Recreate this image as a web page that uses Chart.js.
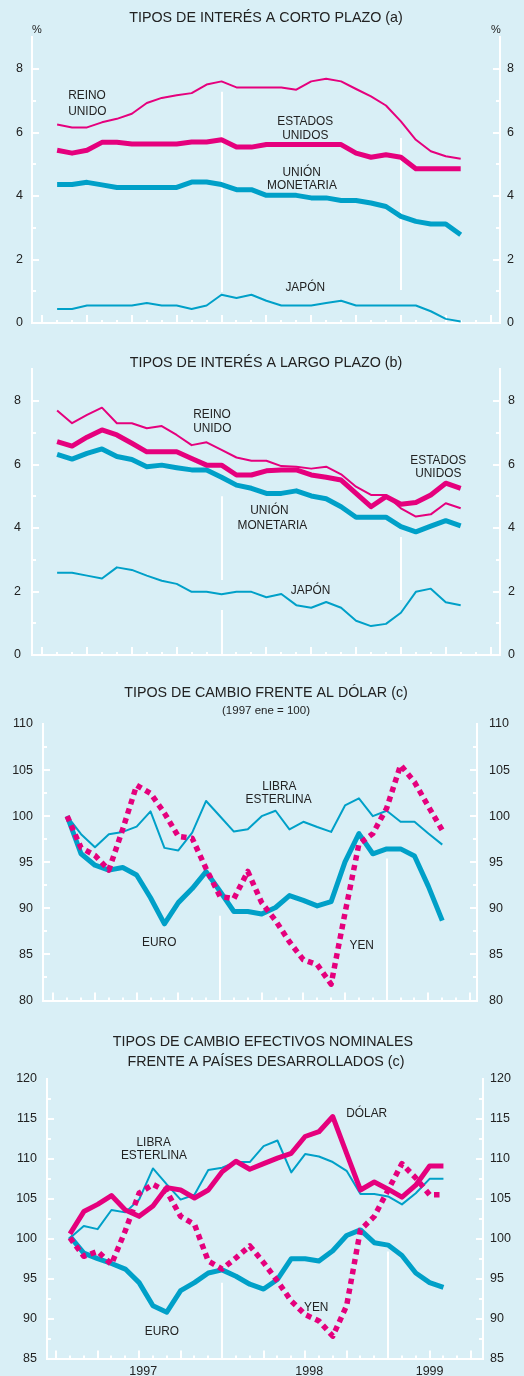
<!DOCTYPE html>
<html lang="es">
<head>
<meta charset="utf-8">
<title>Tipos de interés y tipos de cambio</title>
<script src="https://cdn.jsdelivr.net/npm/chart.js@4.4.1/dist/chart.umd.min.js"></script>
<style>
  html, body { margin: 0; padding: 0; background: #d9eff6; }
  #lienzo { position: relative; width: 524px; height: 1376px; overflow: hidden; background: #d9eff6; }
  #lienzo canvas { position: absolute; left: 0; }
</style>
</head>
<body>
<div id="lienzo">
  <canvas id="chartCorto" width="524" height="340" style="top:0px"></canvas>
  <canvas id="chartLargo" width="524" height="340" style="top:340px"></canvas>
  <canvas id="chartDolar" width="524" height="340" style="top:680px"></canvas>
  <canvas id="chartEfectivo" width="524" height="356" style="top:1020px"></canvas>
</div>
<script>
// meses representados (1997 ene .. 1999 abr)
const meses = [
  "1997 ene", "1997 feb", "1997 mar", "1997 abr", "1997 may", "1997 jun", "1997 jul", "1997 ago", "1997 sep", "1997 oct", "1997 nov", "1997 dic",
  "1998 ene", "1998 feb", "1998 mar", "1998 abr", "1998 may", "1998 jun", "1998 jul", "1998 ago", "1998 sep", "1998 oct", "1998 nov", "1998 dic",
  "1999 ene", "1999 feb", "1999 mar", "1999 abr"
];
const anios = ["1997", "1998", "1999"];

// tipos de interés a corto plazo (%)
const cortoReinoUnido = [6.25, 6.16, 6.16, 6.32, 6.43, 6.59, 6.93, 7.09, 7.17, 7.24, 7.51, 7.61, 7.42, 7.42, 7.42, 7.42, 7.35, 7.61, 7.69, 7.61, 7.37, 7.14, 6.85, 6.35, 5.77, 5.41, 5.25, 5.17];
const cortoEstadosUnidos = [5.44, 5.35, 5.44, 5.69, 5.69, 5.64, 5.64, 5.64, 5.64, 5.70, 5.70, 5.77, 5.54, 5.54, 5.62, 5.62, 5.62, 5.62, 5.62, 5.62, 5.35, 5.22, 5.30, 5.22, 4.86, 4.86, 4.86, 4.86];
const cortoUnionMonetaria = [4.36, 4.36, 4.43, 4.35, 4.27, 4.27, 4.27, 4.27, 4.27, 4.44, 4.44, 4.36, 4.20, 4.20, 4.02, 4.02, 4.02, 3.94, 3.94, 3.86, 3.86, 3.78, 3.67, 3.36, 3.20, 3.12, 3.12, 2.78];
const cortoJapon = [0.44, 0.44, 0.55, 0.55, 0.55, 0.55, 0.63, 0.55, 0.55, 0.44, 0.55, 0.89, 0.79, 0.89, 0.70, 0.55, 0.55, 0.55, 0.63, 0.70, 0.55, 0.55, 0.55, 0.55, 0.55, 0.37, 0.13, 0.05];

// tipos de interés a largo plazo (%)
const largoReinoUnido = [7.70, 7.30, 7.56, 7.79, 7.30, 7.30, 7.14, 7.21, 6.93, 6.61, 6.70, 6.46, 6.22, 6.12, 6.12, 5.95, 5.93, 5.87, 5.93, 5.69, 5.30, 5.04, 5.04, 4.62, 4.36, 4.43, 4.78, 4.62];
const largoEstadosUnidos = [6.72, 6.58, 6.86, 7.09, 6.93, 6.67, 6.40, 6.40, 6.40, 6.19, 5.98, 5.98, 5.67, 5.67, 5.80, 5.83, 5.83, 5.67, 5.60, 5.51, 5.09, 4.67, 4.99, 4.75, 4.80, 5.04, 5.41, 5.25];
const largoUnionMonetaria = [6.32, 6.17, 6.35, 6.49, 6.25, 6.16, 5.93, 5.98, 5.90, 5.83, 5.83, 5.60, 5.35, 5.25, 5.09, 5.09, 5.17, 5.01, 4.92, 4.67, 4.34, 4.34, 4.34, 4.04, 3.88, 4.06, 4.23, 4.07];
const largoJapon = [2.59, 2.59, 2.50, 2.41, 2.76, 2.68, 2.50, 2.34, 2.24, 1.99, 1.99, 1.91, 1.99, 1.99, 1.82, 1.92, 1.57, 1.49, 1.67, 1.49, 1.08, 0.91, 0.98, 1.33, 1.99, 2.09, 1.66, 1.57];

// tipos de cambio frente al dólar (1997 ene = 100)
const dolarLibra = [100.0, 98.04, 96.63, 98.04, 98.29, 98.86, 100.52, 96.56, 96.28, 98.22, 101.65, 99.99, 98.33, 98.57, 100.0, 100.59, 98.57, 99.39, 98.82, 98.29, 101.16, 101.93, 100.0, 100.59, 99.39, 99.39, 98.11, 96.91];
const dolarEuro = [100.0, 95.92, 94.68, 94.15, 94.43, 93.62, 91.15, 88.32, 90.62, 92.14, 93.98, 91.86, 89.66, 89.66, 89.38, 90.09, 91.39, 90.86, 90.26, 90.72, 95.04, 98.11, 95.92, 96.45, 96.45, 95.67, 92.38, 88.67];
const dolarYen = [100.0, 96.56, 95.75, 94.15, 98.6, 103.35, 102.47, 100.34, 97.8, 97.6, 94.3, 91.3, 91.04, 94.0, 90.62, 88.67, 86.37, 84.42, 83.89, 81.77, 89.5, 96.98, 98.11, 100.87, 105.54, 103.70, 101.05, 98.47];

// tipos de cambio efectivos nominales frente a países desarrollados
const efectivoDolar = [100.6, 103.4, 104.3, 105.4, 103.6, 102.8, 104.1, 106.4, 106.1, 105.1, 106.1, 108.4, 109.7, 108.7, 109.4, 110.1, 110.7, 112.8, 113.4, 115.3, 110.7, 106.1, 107.1, 106.2, 105.2, 106.7, 109.1, 109.1];
const efectivoLibra = [100.1, 101.6, 101.2, 103.6, 103.3, 104.9, 108.8, 106.8, 104.9, 105.5, 108.6, 108.9, 109.6, 109.6, 111.6, 112.3, 108.3, 110.6, 110.3, 109.6, 108.5, 105.6, 105.6, 105.3, 104.3, 105.7, 107.5, 107.5];
const efectivoEuro = [100.3, 98.2, 97.5, 96.9, 96.2, 94.5, 91.6, 90.8, 93.5, 94.5, 95.7, 96.1, 95.3, 94.3, 93.7, 94.9, 97.5, 97.5, 97.2, 98.5, 100.4, 101.1, 99.5, 99.2, 97.9, 95.7, 94.5, 93.9];
const efectivoYen = [100.1, 97.8, 98.4, 96.8, 101.0, 105.7, 106.8, 105.9, 102.8, 101.8, 97.2, 96.2, 97.6, 99.1, 97.0, 94.7, 92.2, 90.5, 89.7, 87.8, 91.6, 101.1, 102.8, 106.1, 109.4, 107.6, 105.5, 105.5];

// marcas de los ejes
const ticksInteres = [0, 2, 4, 6, 8];
const ticksDolar = [80, 85, 90, 95, 100, 105, 110];
const ticksEfectivo = [85, 90, 95, 100, 105, 110, 115, 120];

const ROSA = "#e5007d";
const AZUL = "#00a0c8";
const TEXTO = "#222222";
const FUENTE = '"Liberation Sans", Arial, Helvetica, sans-serif';

Chart.defaults.font.family = FUENTE;
Chart.defaults.font.size = 12;
Chart.defaults.color = TEXTO;

// texto algo estrechado, como en el original
function textoEstrecho(ctx, texto, px, py, alinear) {
  ctx.save();
  ctx.translate(px, py);
  ctx.scale(0.88, 1);
  ctx.textAlign = alinear;
  ctx.fillText(texto, 0, 0);
  ctx.restore();
}

const decoraciones = {
  id: "decoraciones",
  beforeDatasetsDraw(chart, args, opts) {
    const { ctx, chartArea: area, scales: { x, y } } = chart;
    ctx.save();
    ctx.strokeStyle = "#ffffff";
    ctx.lineWidth = 2;

    // líneas de fin de año
    (opts.lineasAnio || []).forEach((linea) => {
      const px = Math.round(x.getPixelForValue(linea.x));
      linea.tramos.forEach(([desde, hasta]) => {
        ctx.beginPath();
        ctx.moveTo(px, y.getPixelForValue(desde));
        ctx.lineTo(px, y.getPixelForValue(hasta));
        ctx.stroke();
      });
    });

    // marcas mensuales y trimestrales del eje x
    for (let m = Math.ceil(x.min); m <= x.max; m++) {
      const px = Math.round(x.getPixelForValue(m));
      const largo = (m + 1) % 3 === 0 ? 8 : 3;
      ctx.beginPath();
      ctx.moveTo(px, area.bottom);
      ctx.lineTo(px, area.bottom - largo);
      ctx.stroke();
    }

    // marcas de los ejes verticales
    const { pasoMenor, pasoMayor } = opts;
    for (let v = y.min + pasoMenor; v < y.max - 0.001; v += pasoMenor) {
      const py = Math.round(y.getPixelForValue(v));
      const mayor = Math.abs(v / pasoMayor - Math.round(v / pasoMayor)) < 0.001;
      const largo = mayor ? 7 : 4;
      ctx.beginPath();
      ctx.moveTo(area.left, py);
      ctx.lineTo(area.left + largo, py);
      ctx.moveTo(area.right, py);
      ctx.lineTo(area.right - largo, py);
      ctx.stroke();
    }
    ctx.restore();
  },
  afterDatasetsDraw(chart, args, opts) {
    const { ctx, scales: { x, y } } = chart;
    ctx.save();
    ctx.fillStyle = TEXTO;
    ctx.textBaseline = "middle";
    ctx.font = "13.5px " + FUENTE;
    (opts.rotulos || []).forEach((r) => {
      textoEstrecho(ctx, r.texto, x.getPixelForValue(r.x), y.getPixelForValue(r.y), r.alinear || "center");
    });
    (opts.titulos || []).forEach((t) => {
      ctx.font = t.tam + "px " + FUENTE;
      ctx.textAlign = t.alinear || "center";
      ctx.fillText(t.texto, t.px, t.py);
    });
    ctx.restore();
  }
};

function serie(valores, color, grosor, orden, extra = {}) {
  return Object.assign({
    data: valores.map((v, i) => ({ x: i, y: v })),
    borderColor: color,
    borderWidth: grosor,
    pointRadius: 0,
    tension: 0,
    fill: false,
    borderJoinStyle: "round",
    order: orden
  }, extra);
}

function ejeY(p, posicion, ancho, relleno) {
  return {
    type: "linear",
    position: posicion,
    min: p.yMin,
    max: p.yMax,
    grid: { display: false, drawTicks: false },
    border: { color: "#ffffff", width: 2 },
    ticks: { padding: relleno, font: { size: 12.5 }, color: TEXTO },
    afterBuildTicks: (s) => { s.ticks = p.ticksY.map((v) => ({ value: v })); },
    afterFit: (s) => { s.width = ancho; }
  };
}

function crearPanel(id, p) {
  const canvas = document.getElementById(id);
  return new Chart(canvas, {
    type: "line",
    data: { datasets: p.series },
    options: {
      responsive: false,
      animation: false,
      devicePixelRatio: 1,
      layout: { padding: { top: p.arriba, left: 0, right: 0, bottom: 0 } },
      plugins: {
        legend: { display: false },
        tooltip: { enabled: false },
        decoraciones: p.decor
      },
      scales: {
        x: {
          type: "linear",
          min: p.xMin,
          max: p.xMax,
          grid: { display: false, drawTicks: false },
          border: { color: "#ffffff", width: 2 },
          ticks: {
            display: !!p.anios,
            padding: 6,
            maxRotation: 0,
            autoSkip: false,
            font: { size: 12.5 },
            color: TEXTO,
            callback: (valor) => {
              const k = (p.anios || []).findIndex((a) => Math.abs(a.x - valor) < 0.01);
              return k >= 0 ? p.anios[k].texto : "";
            }
          },
          afterBuildTicks: (s) => { s.ticks = (p.anios || []).map((a) => ({ value: a.x })); },
          afterFit: (s) => { s.height = canvas.height - p.abajo; }
        },
        y: ejeY(p, "left", p.izq, p.padIzq),
        y2: ejeY(p, "right", 524 - p.der, p.padDer)
      }
    },
    plugins: [decoraciones]
  });
}

const yenDash = { borderDash: [5.5, 4.5], borderCapStyle: "butt" };

document.addEventListener("DOMContentLoaded", () => {
  crearPanel("chartCorto", {
    xMin: -1.68, xMax: 29.63, yMin: 0, yMax: 9, ticksY: ticksInteres,
    arriba: 37.25, abajo: 323, izq: 32, der: 500, padIzq: 9, padDer: 7,
    series: [
      serie(cortoReinoUnido, ROSA, 2, 2),
      serie(cortoEstadosUnidos, ROSA, 5, 3),
      serie(cortoUnionMonetaria, AZUL, 5, 4),
      serie(cortoJapon, AZUL, 2, 1)
    ],
    decor: {
      pasoMenor: 1, pasoMayor: 2,
      lineasAnio: [
        { x: 11, tramos: [[7.28, 0.98]] },
        { x: 23, tramos: [[5.83, 1.04]] }
      ],
      rotulos: [
        { texto: "REINO", x: 0.74, y: 7.16, alinear: "left" },
        { texto: "UNIDO", x: 0.74, y: 6.68, alinear: "left" },
        { texto: "ESTADOS", x: 16.6, y: 6.36 },
        { texto: "UNIDOS", x: 16.6, y: 5.92 },
        { texto: "UNIÓN", x: 16.36, y: 4.75 },
        { texto: "MONETARIA", x: 16.38, y: 4.35 },
        { texto: "JAPÓN", x: 16.6, y: 1.14 }
      ],
      titulos: [
        { texto: "TIPOS DE INTERÉS A CORTO PLAZO (a)", px: 266, py: 18, tam: 14.3 },
        { texto: "%", px: 37, py: 30, tam: 11 },
        { texto: "%", px: 496, py: 30, tam: 11 }
      ]
    }
  });

  crearPanel("chartLargo", {
    xMin: -1.68, xMax: 29.63, yMin: 0, yMax: 9, ticksY: ticksInteres,
    arriba: 29.25, abajo: 315, izq: 32, der: 500, padIzq: 11, padDer: 8,
    series: [
      serie(largoReinoUnido, ROSA, 2, 1),
      serie(largoEstadosUnidos, ROSA, 5, 2),
      serie(largoUnionMonetaria, AZUL, 5, 3),
      serie(largoJapon, AZUL, 2, 0)
    ],
    decor: {
      pasoMenor: 1, pasoMayor: 2,
      lineasAnio: [
        { x: 11, tramos: [[5.0, 2.36], [1.42, 0]] },
        { x: 23, tramos: [[3.72, 1.73]] }
      ],
      rotulos: [
        { texto: "REINO", x: 9.1, y: 7.59, alinear: "left" },
        { texto: "UNIDO", x: 9.1, y: 7.14, alinear: "left" },
        { texto: "ESTADOS", x: 25.5, y: 6.14 },
        { texto: "UNIDOS", x: 25.5, y: 5.72 },
        { texto: "UNIÓN", x: 14.2, y: 4.55 },
        { texto: "MONETARIA", x: 14.4, y: 4.07 },
        { texto: "JAPÓN", x: 16.96, y: 2.05 }
      ],
      titulos: [
        { texto: "TIPOS DE INTERÉS A LARGO PLAZO (b)", px: 266, py: 23, tam: 14.3 }
      ]
    }
  });

  crearPanel("chartDolar", {
    xMin: -1.74, xMax: 29.5, yMin: 80, yMax: 110, ticksY: ticksDolar,
    arriba: 44, abajo: 327, izq: 43, der: 477, padIzq: 10, padDer: 12,
    series: [
      serie(dolarLibra, AZUL, 2, 2),
      serie(dolarEuro, AZUL, 5, 3),
      serie(dolarYen, ROSA, 5.5, 1, yenDash)
    ],
    decor: {
      pasoMenor: 2.5, pasoMayor: 5,
      lineasAnio: [
        { x: 11, tramos: [[89.2, 80]] },
        { x: 23, tramos: [[95.4, 80]] }
      ],
      rotulos: [
        { texto: "LIBRA", x: 15.27, y: 103.29 },
        { texto: "ESTERLINA", x: 15.22, y: 101.8 },
        { texto: "EURO", x: 6.63, y: 86.33 },
        { texto: "YEN", x: 21.2, y: 86.04 }
      ],
      titulos: [
        { texto: "TIPOS DE CAMBIO FRENTE AL DÓLAR (c)", px: 266, py: 13, tam: 14.3 },
        { texto: "(1997 ene = 100)", px: 266, py: 31, tam: 11.5 }
      ]
    }
  });

  crearPanel("chartEfectivo", {
    xMin: -1.66, xMax: 29.86, yMin: 85, yMax: 120, ticksY: ticksEfectivo,
    arriba: 59, abajo: 339, izq: 47, der: 483, padIzq: 10, padDer: 7,
    anios: [
      { x: 5.3, texto: anios[0] },
      { x: 17.3, texto: anios[1] },
      { x: 26, texto: anios[2] }
    ],
    series: [
      serie(efectivoDolar, ROSA, 5, 2),
      serie(efectivoLibra, AZUL, 2, 3),
      serie(efectivoEuro, AZUL, 5, 4),
      serie(efectivoYen, ROSA, 5.5, 1, yenDash)
    ],
    decor: {
      pasoMenor: 2.5, pasoMayor: 5,
      lineasAnio: [
        { x: 11, tramos: [[94.5, 85]] },
        { x: 23, tramos: [[98.4, 85]] }
      ],
      rotulos: [
        { texto: "DÓLAR", x: 21.45, y: 115.71 },
        { texto: "LIBRA", x: 6.05, y: 112.04 },
        { texto: "ESTERLINA", x: 6.07, y: 110.41 },
        { texto: "YEN", x: 17.8, y: 91.46 },
        { texto: "EURO", x: 6.65, y: 88.42 }
      ],
      titulos: [
        { texto: "TIPOS DE CAMBIO EFECTIVOS NOMINALES", px: 263, py: 22, tam: 14.3 },
        { texto: "FRENTE A PAÍSES DESARROLLADOS (c)", px: 266, py: 42, tam: 14.3 }
      ]
    }
  });
});
</script>
</body>
</html>
